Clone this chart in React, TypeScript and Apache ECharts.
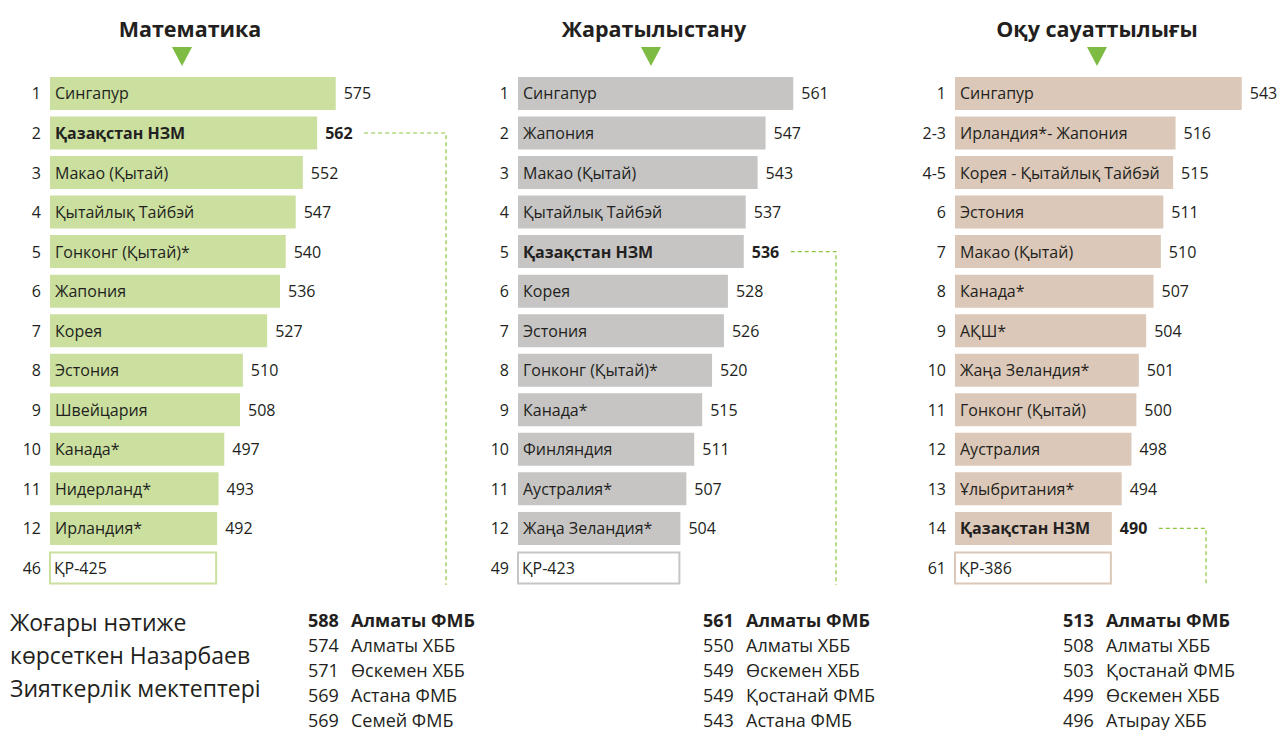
import React, { useEffect, useRef } from "react";
import * as echarts from "echarts";

const FONT = '"Open Sans", "Noto Sans", sans-serif';
const INK = "#231f20";

// ---------- data ----------
const titles = ["Математика", "Жаратылыстану", "Оқу сауаттылығы"];

const mathRanks = ["1", "2", "3", "4", "5", "6", "7", "8", "9", "10", "11", "12", "46"];
const mathNames = ["Сингапур", "Қазақстан НЗМ", "Макао (Қытай)", "Қытайлық Тайбэй", "Гонконг (Қытай)*", "Жапония", "Корея", "Эстония", "Швейцария", "Канада*", "Нидерланд*", "Ирландия*"];
const mathScores = [575, 562, 552, 547, 540, 536, 527, 510, 508, 497, 493, 492];
const mathKR = 425;

const sciRanks = ["1", "2", "3", "4", "5", "6", "7", "8", "9", "10", "11", "12", "49"];
const sciNames = ["Сингапур", "Жапония", "Макао (Қытай)", "Қытайлық Тайбэй", "Қазақстан НЗМ", "Корея", "Эстония", "Гонконг (Қытай)*", "Канада*", "Финляндия", "Аустралия*", "Жаңа Зеландия*"];
const sciScores = [561, 547, 543, 537, 536, 528, 526, 520, 515, 511, 507, 504];
const sciKR = 423;

const readRanks = ["1", "2-3", "4-5", "6", "7", "8", "9", "10", "11", "12", "13", "14", "61"];
const readNames = ["Сингапур", "Ирландия*- Жапония", "Корея - Қытайлық Тайбэй", "Эстония", "Макао (Қытай)", "Канада*", "АҚШ*", "Жаңа Зеландия*", "Гонконг (Қытай)", "Аустралия", "Ұлыбритания*", "Қазақстан НЗМ"];
const readScores = [543, 516, 515, 511, 510, 507, 504, 501, 500, 498, 494, 490];
const readKR = 386;

const kzName = "Қазақстан НЗМ";

const mathSchoolScores = [588, 574, 571, 569, 569];
const mathSchools = ["Алматы ФМБ", "Алматы ХББ", "Өскемен ХББ", "Астана ФМБ", "Семей ФМБ"];
const sciSchoolScores = [561, 550, 549, 549, 543];
const sciSchools = ["Алматы ФМБ", "Алматы ХББ", "Өскемен ХББ", "Қостанай ФМБ", "Астана ФМБ"];
const readSchoolScores = [513, 508, 503, 499, 496];
const readSchools = ["Алматы ФМБ", "Алматы ХББ", "Қостанай ФМБ", "Өскемен ХББ", "Атырау ХББ"];

const sideNote = ["Жоғары нәтиже", "көрсеткен Назарбаев", "Зияткерлік мектептері"];

// ---------- layout / style ----------
const panels = [
  { ranks: mathRanks, names: mathNames, scores: mathScores, kr: mathKR, schoolScores: mathSchoolScores, schools: mathSchools,
    color: "#cbdf9f", left: 50, width: 300, min: 375, max: 585, titleX: 190, triX: 182, lineX: 446, listX: 308 },
  { ranks: sciRanks, names: sciNames, scores: sciScores, kr: sciKR, schoolScores: sciSchoolScores, schools: sciSchools,
    color: "#c6c5c4", left: 518, width: 301, min: 422, max: 574, titleX: 654, triX: 651, lineX: 836, listX: 703 },
  { ranks: readRanks, names: readNames, scores: readScores, kr: readKR, schoolScores: readSchoolScores, schools: readSchools,
    color: "#dbc8b8", left: 955, width: 299, min: 426, max: 548, titleX: 1097, triX: 1097, lineX: 1206, listX: 1063 },
];

const GRID_TOP = 73.7;
const GRID_H = 514;

export default function App() {
  const ref = useRef<HTMLDivElement>(null);

  useEffect(() => {
    if (!ref.current) return;
    const chart = echarts.init(ref.current, null, { renderer: "svg" });

    const grid: any[] = [];
    const xAxis: any[] = [];
    const yAxis: any[] = [];
    const series: any[] = [];

    panels.forEach((p, i) => {
      grid.push({ left: p.left, width: p.width, top: GRID_TOP, height: GRID_H, containLabel: false });
      xAxis.push({ type: "value", gridIndex: i, min: p.min, max: p.max, show: false, splitLine: { show: false } });
      yAxis.push({
        type: "category", gridIndex: i, inverse: true, data: p.ranks,
        axisLine: { show: false }, axisTick: { show: false }, splitLine: { show: false },
        axisLabel: { color: INK, fontFamily: FONT, fontSize: 16, margin: 9, padding: [0, 0, 4, 0] },
      });
      const kzIdx = p.names.indexOf(kzName);
      const last = p.scores[p.scores.length - 1];
      const mainData: any[] = p.scores.map((v, j) => ({
        value: v,
        label: j === kzIdx ? { fontWeight: "bold" } : undefined,
      }));
      mainData.push({
        value: last,
        itemStyle: { color: "#ffffff", borderColor: p.color, borderWidth: 2 },
      });
      const labels = [...p.names, "ҚР-" + p.kr];
      series.push({
        type: "bar", xAxisIndex: i, yAxisIndex: i, barWidth: 33, silent: true,
        itemStyle: { color: p.color },
        data: mainData,
        label: {
          show: true, position: "insideLeft", distance: 5, color: INK, fontFamily: FONT, fontSize: 16,
          formatter: (q: any) => labels[q.dataIndex],
        },
      });
      const valData: any[] = p.scores.map((v, j) => ({
        value: v,
        label: j === kzIdx ? { fontWeight: "bold" } : undefined,
      }));
      valData.push({ value: last, label: { show: false } });
      series.push({
        type: "bar", xAxisIndex: i, yAxisIndex: i, barWidth: 33, barGap: "-100%", silent: true,
        itemStyle: { color: "rgba(0,0,0,0)" },
        data: valData,
        label: {
          show: true, position: "right", distance: 8, color: INK, fontFamily: FONT, fontSize: 16,
          formatter: (q: any) => String(q.value),
        },
      });
    });

    chart.setOption({
      animation: false,
      backgroundColor: "#ffffff",
      grid, xAxis, yAxis, series,
    });

    const graphic: any[] = [];
    panels.forEach((p, i) => {
      graphic.push({
        type: "text", x: p.titleX, y: 28,
        style: { text: titles[i], textAlign: "center", textVerticalAlign: "middle", fill: INK, fontFamily: FONT, fontSize: 21.5, fontWeight: "bold" },
      });
      graphic.push({
        type: "polygon",
        shape: { points: [[p.triX - 10, 47], [p.triX + 10, 47], [p.triX, 66]] },
        style: { fill: "#7dbb42" },
      });
      const kzIdx = p.names.indexOf(kzName);
      const pt = chart.convertToPixel({ xAxisIndex: i, yAxisIndex: i } as any, [p.scores[kzIdx], kzIdx]) as number[];
      if (pt) {
        graphic.push({
          type: "polyline",
          shape: { points: [[pt[0] + 47, pt[1]], [p.lineX, pt[1]], [p.lineX, 585]] },
          style: { stroke: "#8cc63f", lineWidth: 1.2, lineDash: [4, 3], fill: null },
        });
      }
      p.schools.forEach((s, j) => {
        const bold = j === 0 ? "bold" : "normal";
        const y = 619.5 + j * 25;
        graphic.push({
          type: "text", x: p.listX, y,
          style: { text: String(p.schoolScores[j]), textVerticalAlign: "middle", fill: INK, fontFamily: FONT, fontSize: 18, fontWeight: bold },
        });
        graphic.push({
          type: "text", x: p.listX + 43, y,
          style: { text: s, textVerticalAlign: "middle", fill: INK, fontFamily: FONT, fontSize: 18, fontWeight: bold },
        });
      });
    });
    sideNote.forEach((t, j) => {
      graphic.push({
        type: "text", x: 10, y: 622 + j * 33,
        style: { text: t, textVerticalAlign: "middle", fill: INK, fontFamily: FONT, fontSize: 23 },
      });
    });

    chart.setOption({ graphic });

    return () => chart.dispose();
  }, []);

  return (
    <div
      ref={ref}
      style={{ position: "absolute", left: 0, top: 0, width: 1279, height: 730, background: "#fff" }}
    />
  );
}
